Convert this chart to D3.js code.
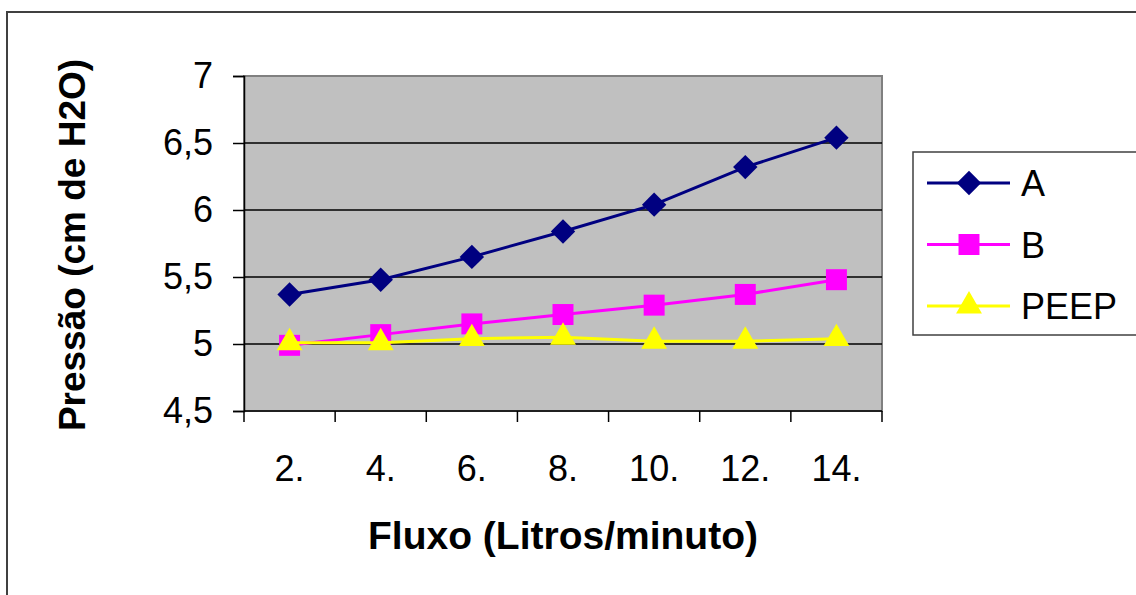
<!DOCTYPE html>
<html>
<head>
<meta charset="utf-8">
<script src="https://cdn.jsdelivr.net/npm/d3@7"></script>
<style>
  body { margin: 0; background: #fff; }
  svg text { font-family: Arial, "Liberation Sans", sans-serif; }
</style>
</head>
<body>
<svg id="chart" width="1136" height="595"></svg>
<script>
// valores
const fluxo = ['2.', '4.', '6.', '8.', '10.', '12.', '14.']
const serieA = [5.37, 5.48, 5.65, 5.84, 6.04, 6.32, 6.54]
const serieB = [4.99, 5.07, 5.15, 5.22, 5.29, 5.37, 5.48]
const peep = [5.01, 5.01, 5.04, 5.05, 5.02, 5.02, 5.04]
const yTicks = [4.5, 5, 5.5, 6, 6.5, 7]

const series = [
  { name: 'A', values: serieA, color: '#000080', symbol: d3.symbolDiamond2, size: 380 },
  { name: 'B', values: serieB, color: '#ff00ff', symbol: d3.symbolSquare2, size: 560 },
  { name: 'PEEP', values: peep, color: '#ffff00', symbol: d3.symbolTriangle2, size: 480 }
]

const svg = d3.select('#chart')
const plot = { left: 244, right: 882, top: 76, bottom: 411 }

// moldura externa
svg.append('rect')
  .attr('x', 7).attr('y', 12).attr('width', 1140).attr('height', 600)
  .attr('fill', 'none').attr('stroke', '#404040').attr('stroke-width', 2)

const x = d3.scaleBand().domain(fluxo).range([plot.left, plot.right])
const y = d3.scaleLinear().domain([4.5, 7]).range([plot.bottom, plot.top])

svg.append('rect')
  .attr('x', plot.left).attr('y', plot.top)
  .attr('width', plot.right - plot.left).attr('height', plot.bottom - plot.top)
  .attr('fill', '#c0c0c0').attr('stroke', '#808080').attr('stroke-width', 2)

svg.append('g').selectAll('line')
  .data(yTicks.slice(1, -1))
  .join('line')
  .attr('x1', plot.left).attr('x2', plot.right)
  .attr('y1', d => y(d)).attr('y2', d => y(d))
  .attr('stroke', '#000').attr('stroke-width', 1.5)

const fmt = d => String(d).replace('.', ',')

const yAxis = svg.append('g')
  .attr('transform', `translate(${plot.left},0)`)
  .call(d3.axisLeft(y).tickValues(yTicks).tickFormat(fmt).tickSize(11).tickPadding(20))
yAxis.select('.domain').attr('stroke', '#000').attr('stroke-width', 1.5)
yAxis.selectAll('.tick line').attr('stroke', '#000').attr('stroke-width', 1.5)
yAxis.selectAll('.tick text').attr('font-size', 36).attr('fill', '#000')

// ticks do eixo x ficam nas divisoes das categorias
const bounds = fluxo.map(d => x(d)).concat([plot.right])
svg.append('line')
  .attr('x1', plot.left).attr('x2', plot.right)
  .attr('y1', plot.bottom).attr('y2', plot.bottom)
  .attr('stroke', '#000').attr('stroke-width', 1.5)
svg.append('g').selectAll('line')
  .data(bounds)
  .join('line')
  .attr('x1', d => d).attr('x2', d => d)
  .attr('y1', plot.bottom).attr('y2', plot.bottom + 11)
  .attr('stroke', '#000').attr('stroke-width', 1.5)
svg.append('g').selectAll('text')
  .data(fluxo)
  .join('text')
  .attr('x', d => x(d) + x.bandwidth() / 2)
  .attr('y', 481)
  .attr('text-anchor', 'middle')
  .attr('font-size', 36)
  .text(d => d)

const cx = (d, i) => x(fluxo[i]) + x.bandwidth() / 2
const line = d3.line().x(cx).y(d => y(d))

series.forEach(s => {
  svg.append('path')
    .datum(s.values)
    .attr('d', line)
    .attr('fill', 'none')
    .attr('stroke', s.color)
    .attr('stroke-width', 3)
  svg.append('g').selectAll('path')
    .data(s.values)
    .join('path')
    .attr('transform', (d, i) => `translate(${cx(d, i)},${y(d)})`)
    .attr('d', d3.symbol().type(s.symbol).size(s.size))
    .attr('fill', s.color)
})

// titulos
svg.append('text')
  .attr('x', 563).attr('y', 549)
  .attr('text-anchor', 'middle')
  .attr('font-size', 39).attr('font-weight', 'bold')
  .text('Fluxo (Litros/minuto)')

svg.append('text')
  .attr('transform', 'translate(85,245) rotate(-90)')
  .attr('text-anchor', 'middle')
  .attr('font-size', 37).attr('font-weight', 'bold')
  .text('Pressão (cm de H2O)')

// legenda
const legend = svg.append('g')
legend.append('rect')
  .attr('x', 913).attr('y', 152).attr('width', 240).attr('height', 183)
  .attr('fill', '#fff').attr('stroke', '#404040').attr('stroke-width', 1.5)
const rows = legend.selectAll('g')
  .data(series)
  .join('g')
  .attr('transform', (d, i) => `translate(0,${183 + i * 61.5})`)
rows.append('line')
  .attr('x1', 927).attr('x2', 1010)
  .attr('stroke', d => d.color).attr('stroke-width', 3)
rows.append('path')
  .attr('transform', 'translate(969,0)')
  .attr('d', d => d3.symbol().type(d.symbol).size(d.size)())
  .attr('fill', d => d.color)
rows.append('text')
  .attr('x', 1021).attr('y', 13)
  .attr('font-size', 36)
  .text(d => d.name)
</script>
</body>
</html>
